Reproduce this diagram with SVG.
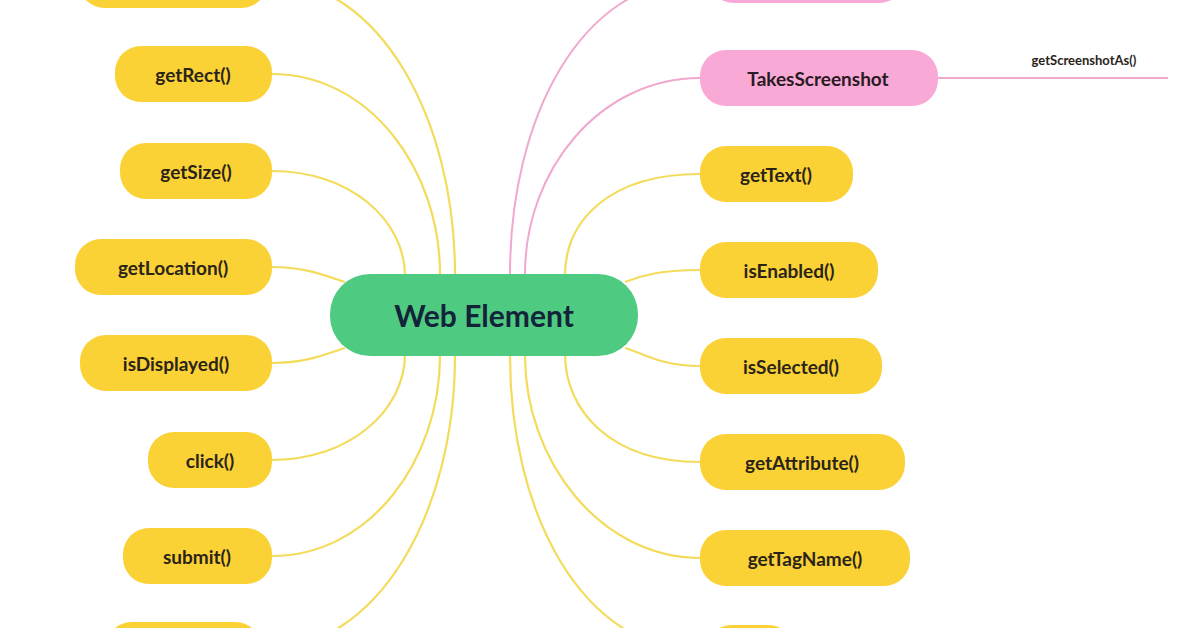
<svg xmlns="http://www.w3.org/2000/svg" width="1196" height="628" viewBox="0 0 1196 628">
<style>
.y{fill:#fbd236}.p{fill:#f9a9d6}
.t{font-family:Lato,"Liberation Sans",sans-serif;font-weight:bold;font-size:19px;fill:#2a2418;text-anchor:middle;dominant-baseline:central}
.cy{fill:none;stroke:#f3dc5c;stroke-width:2.2}
.cp{fill:none;stroke:#f0a8cf;stroke-width:2}
</style>
<rect width="1196" height="628" fill="#fff"/>
<g id="connectors">
<path class="cy" d="M268,-20 C380,-20 455,120 455,274"/>
<path class="cy" d="M272,74 C370,74 440,170 440,274"/>
<path class="cy" d="M272,171 C350,171 405,220 405,276"/>
<path class="cy" d="M272,267 C310,267 330,278 345,282"/>
<path class="cy" d="M272,363 C310,363 330,352 345,348"/>
<path class="cy" d="M272,460 C350,460 405,410 405,354"/>
<path class="cy" d="M272,556 C370,556 440,460 440,356"/>
<path class="cy" d="M262,650 C380,650 455,510 455,356"/>
<path class="cp" d="M700,-20 C580,-20 510,120 510,274"/>
<path class="cp" d="M700,78 C600,78 525,170 525,274"/>
<path class="cp" d="M938,78 L1168,78"/>
<path class="cy" d="M700,174 C610,174 565,220 565,276"/>
<path class="cy" d="M700,270 C660,270 640,276 625,282"/>
<path class="cy" d="M700,366 C660,366 640,352 625,348"/>
<path class="cy" d="M700,462 C610,462 565,410 565,354"/>
<path class="cy" d="M700,558 C600,558 525,460 525,356"/>
<path class="cy" d="M705,652 C580,652 510,510 510,356"/>
</g>
<g id="center"><rect x="330" y="274" width="308" height="82" rx="40" fill="#4ecb80"/><text class="t" x="484" y="315" style="font-size:30px;fill:#13243a">Web Element</text></g>
<g id="l0"><rect class="y" x="78" y="-50" width="190" height="58" rx="27"/></g>
<g id="l1"><rect class="y" x="115" y="46" width="157" height="56" rx="26"/><text class="t" x="193" y="74">getRect()</text></g>
<g id="l2"><rect class="y" x="120" y="143" width="152" height="56" rx="26"/><text class="t" x="196" y="171">getSize()</text></g>
<g id="l3"><rect class="y" x="75" y="239" width="197" height="56" rx="26"/><text class="t" x="173" y="267">getLocation()</text></g>
<g id="l4"><rect class="y" x="80" y="335" width="192" height="56" rx="26"/><text class="t" x="176" y="363">isDisplayed()</text></g>
<g id="l5"><rect class="y" x="148" y="432" width="124" height="56" rx="26"/><text class="t" x="210" y="460">click()</text></g>
<g id="l6"><rect class="y" x="123" y="528" width="149" height="56" rx="26"/><text class="t" x="197" y="556">submit()</text></g>
<g id="l7"><rect class="y" x="105" y="622" width="157" height="58" rx="27"/></g>
<g id="r0"><rect class="p" x="708" y="-50" width="197" height="53" rx="26"/></g>
<g id="r1"><rect class="p" x="700" y="50" width="238" height="56" rx="26"/><text class="t" x="818" y="78" style="fill:#2a1a24">TakesScreenshot</text></g>
<g id="r1a"><text class="t" x="1084" y="60" style="font-size:13px">getScreenshotAs()</text></g>
<g id="r2"><rect class="y" x="700" y="146" width="153" height="56" rx="26"/><text class="t" x="776" y="174">getText()</text></g>
<g id="r3"><rect class="y" x="700" y="242" width="178" height="56" rx="26"/><text class="t" x="789" y="270">isEnabled()</text></g>
<g id="r4"><rect class="y" x="700" y="338" width="182" height="56" rx="26"/><text class="t" x="791" y="366">isSelected()</text></g>
<g id="r5"><rect class="y" x="700" y="434" width="205" height="56" rx="26"/><text class="t" x="802" y="462">getAttribute()</text></g>
<g id="r6"><rect class="y" x="700" y="530" width="210" height="56" rx="26"/><text class="t" x="805" y="558">getTagName()</text></g>
<g id="r7"><rect class="y" x="705" y="625" width="90" height="58" rx="27"/></g>
</svg>
